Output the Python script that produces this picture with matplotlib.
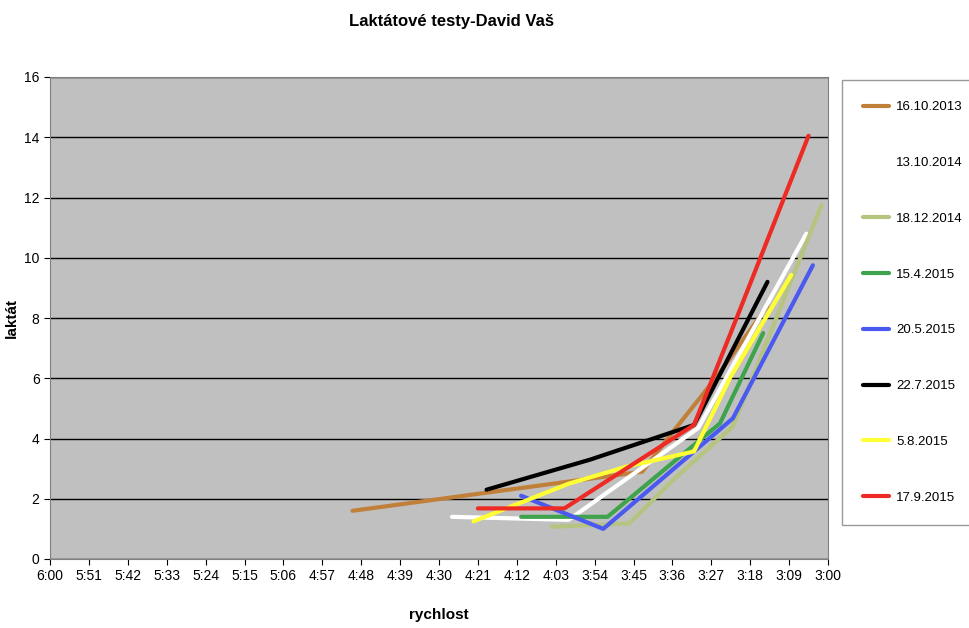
import matplotlib
matplotlib.use("Agg")
import matplotlib.pyplot as plt

labels = ["16.10.2013", "13.10.2014", "18.12.2014", "15.4.2015", "20.5.2015", "22.7.2015", "5.8.2015", "17.9.2015"]
colors = ["#C0803A", "#FFFFFF", "#B5C47F", "#3FA34D", "#4A5AF0", "#000000", "#FFFF33", "#EE2A24"]
# pace in seconds per km, lactate
x_1610_2013 = [290, 223, 216, 206, 194]
y_1610_2013 = [1.6, 2.9, 4.2, 6.0, 8.4]
x_1310_2014 = [267, 240, 210, 185]
y_1310_2014 = [1.4, 1.3, 4.35, 10.8]
x_1812_2014 = [244, 226, 216, 202, 181.5]
y_1812_2014 = [1.07, 1.18, 2.6, 4.4, 11.75]
x_154_2015 = [251, 231, 205, 195]
y_154_2015 = [1.4, 1.4, 4.5, 7.5]
x_205_2015 = [251, 232, 202, 183.5]
y_205_2015 = [2.1, 1.0, 4.67, 9.75]
x_227_2015 = [259, 235, 211, 194]
y_227_2015 = [2.3, 3.3, 4.45, 9.2]
x_58_2015 = [262, 240, 226.5, 211, 202.5, 188.5]
y_58_2015 = [1.25, 2.5, 3.07, 3.57, 6.06, 9.43]
x_179_2015 = [261, 241, 211, 201, 184.5]
y_179_2015 = [1.68, 1.68, 4.45, 8.05, 14.05]
xs = [x_1610_2013, x_1310_2014, x_1812_2014, x_154_2015, x_205_2015, x_227_2015, x_58_2015, x_179_2015]
ys = [y_1610_2013, y_1310_2014, y_1812_2014, y_154_2015, y_205_2015, y_227_2015, y_58_2015, y_179_2015]
xticks = list(range(360, 179, -9))
xticklabels = [f"{t//60}:{t%60:02d}" for t in xticks]

plt.rcParams['font.family'] = ['Liberation Sans', 'DejaVu Sans']
fig = plt.figure(figsize=(9.7, 6.28), dpi=100)
ax = fig.add_axes([50/970, 69/628, 778/970, 482/628])
ax.set_facecolor("#C0C0C0")
lines = []
for x, y, c, l in zip(xs, ys, colors, labels):
    ln, = ax.plot(x, y, color=c, lw=3, label=l, solid_capstyle='round')
    lines.append(ln)
ax.set_xlim(360, 180)
ax.set_ylim(0, 16)
ax.set_yticks(range(0, 17, 2))
ax.set_xticks(xticks)
ax.set_xticklabels(xticklabels)
ax.tick_params(labelsize=10, length=4)
ax.yaxis.grid(True, color="black", lw=1)
ax.set_axisbelow(True)
for s in ax.spines.values():
    s.set_color("#808080")
ax.set_xlabel("rychlost", fontsize=11, fontweight='bold', labelpad=18)
ax.set_ylabel("laktát", fontsize=11, fontweight='bold')
fig.text(0.465, 0.965, "Laktátové testy-David Vaš", ha='center', va='center', fontsize=12, fontweight='bold')
leg = fig.legend(handles=lines, loc='upper left', bbox_to_anchor=(842/970, 1 - 80/628),
                 fontsize=9.5, frameon=True, labelspacing=3.3, handlelength=2.0,
                 handletextpad=0.5, borderpad=1.6, fancybox=False, edgecolor="#808080", borderaxespad=0)
leg._legend_box.sep = 0
fig.savefig("out.png", dpi=100)
